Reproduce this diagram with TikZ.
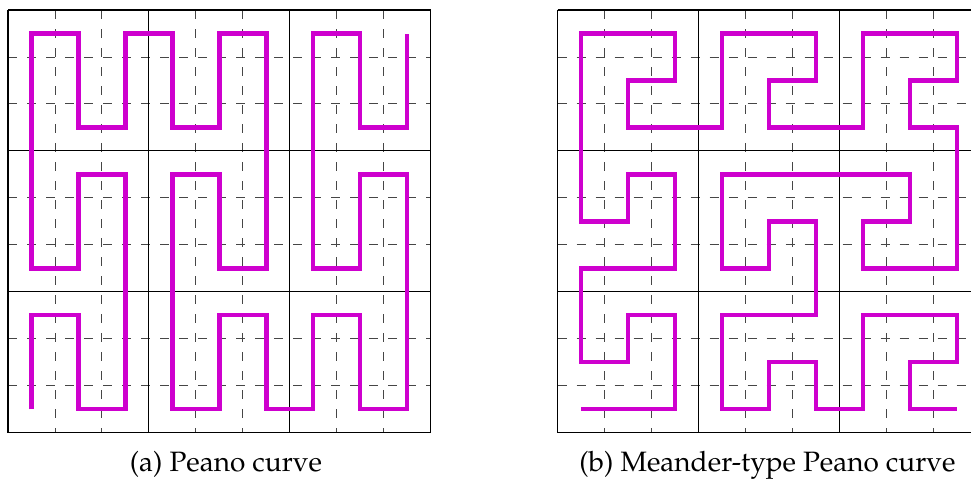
\documentclass[tikz,border=0pt]{standalone}
\usepackage[T1]{fontenc}
\usepackage{mathpazo}
\definecolor{curvemag}{RGB}{206,0,206}
\definecolor{minorgray}{RGB}{70,70,70}
\tikzset{
  majorline/.style={line width=1.1pt, black},
  minorline/.style={line width=0.9pt, minorgray, dash pattern=on 9pt off 10pt},
  peanopath/.style={line width=4.3pt, curvemag, line cap=butt, line join=miter},
  captiontext/.style={anchor=base, inner sep=0pt, font=\fontsize{28}{33}\selectfont}
}
\newcommand{\drawninegrid}{%
  \foreach \k in {1,2,4,5,7,8} {
    \draw[minorline] (\k,0) -- (\k,9);
    \draw[minorline] (0,\k) -- (9,\k);
  }
  \foreach \k in {0,3,6,9} {
    \draw[majorline] (\k,0) -- (\k,9);
    \draw[majorline] (0,\k) -- (9,\k);
  }
}
\begin{document}
\begin{tikzpicture}[x=1pt,y=-1pt]
\useasboundingbox (0,0) rectangle (971,480);
\clip (0,0) rectangle (971,480);
% left grid
\begin{scope}[shift={(8pt,-10pt)}, x=46.97pt, y=-46.97pt]
  \drawninegrid
\end{scope}
% right grid
\begin{scope}[shift={(557.6pt,-10pt)}, x=46.97pt, y=-46.97pt]
  \drawninegrid
\end{scope}
% (a) Peano curve
\begin{scope}[shift={(31.5pt,-33.5pt)}, x=46.97pt, y=-46.97pt]
  \draw[peanopath] (0,8) -- (0,6) -- (1,6) -- (1,8) -- (2,8) -- (2,3) -- (1,3) -- (1,5) -- (0,5)
    -- (0,0) -- (1,0) -- (1,2) -- (2,2) -- (2,0) -- (3,0) -- (3,2) -- (4,2) -- (4,0) -- (5,0)
    -- (5,5) -- (4,5) -- (4,3) -- (3,3) -- (3,8) -- (4,8) -- (4,6) -- (5,6) -- (5,8) -- (6,8)
    -- (6,6) -- (7,6) -- (7,8) -- (8,8) -- (8,3) -- (7,3) -- (7,5) -- (6,5) -- (6,0) -- (7,0)
    -- (7,2) -- (8,2) -- (8,0);
\end{scope}
% (b) Meander-type Peano curve
\begin{scope}[shift={(581.1pt,-33.5pt)}, x=46.97pt, y=-46.97pt]
  \draw[peanopath] (0,8) -- (2,8) -- (2,6) -- (1,6) -- (1,7) -- (0,7) -- (0,5) -- (2,5) -- (2,3)
    -- (1,3) -- (1,4) -- (0,4) -- (0,0) -- (2,0) -- (2,1) -- (1,1) -- (1,2) -- (3,2) -- (3,0)
    -- (5,0) -- (5,1) -- (4,1) -- (4,2) -- (6,2) -- (6,0) -- (8,0) -- (8,1) -- (7,1) -- (7,2)
    -- (8,2) -- (8,5) -- (6,5) -- (6,4) -- (7,4) -- (7,3) -- (3,3) -- (3,5) -- (4,5) -- (4,4)
    -- (5,4) -- (5,6) -- (3,6) -- (3,8) -- (4,8) -- (4,7) -- (5,7) -- (5,8) -- (6,8) -- (6,6)
    -- (8,6) -- (8,7) -- (7,7) -- (7,8) -- (8,8);
\end{scope}
\node[captiontext] (capa) at (226,471) {(a) Peano curve};
\node[captiontext] (capb) at (767.5,471) {(b) Meander-type Peano curve};
\end{tikzpicture}
\end{document}
